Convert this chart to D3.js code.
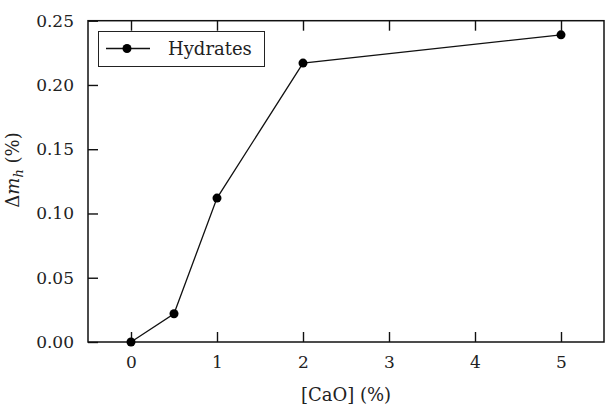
<!DOCTYPE html>
<html>
<head>
<meta charset="utf-8">
<script src="https://cdn.jsdelivr.net/npm/d3@7"></script>
<style>
  html, body { margin: 0; padding: 0; background: #fff; }
  svg { display: block; }
  svg text { font-family: "DejaVu Serif", "Liberation Serif", serif !important; fill: #222; }
</style>
</head>
<body>
<svg id="chart" width="606" height="408"></svg>
<script>
// Data
const cao = [0, 0.5, 1, 2, 5];
const hydrates = [0, 0.022, 0.112, 0.217, 0.239];
const xTicks = [0, 1, 2, 3, 4, 5];
const yTicks = [0, 0.05, 0.10, 0.15, 0.20, 0.25];
const seriesName = "Hydrates";
const xLabel = "[CaO] (%)";

const W = 606, H = 408;
const m = { left: 88, right: 2, top: 20.7, bottom: 66 };
const svg = d3.select("#chart");

const x = d3.scaleLinear().domain([-0.5, 5.5]).range([m.left, W - m.right]);
const y = d3.scaleLinear().domain([0, 0.25]).range([H - m.bottom, m.top]);

const fs = 17;
const tickLen = 10;

const gB = svg.append("g").attr("transform", `translate(0,${y(0)})`)
  .call(d3.axisBottom(x).tickValues(xTicks).tickSize(-tickLen).tickPadding(14).tickFormat(d3.format("d")));
const gT = svg.append("g").attr("transform", `translate(0,${y(0.25)})`)
  .call(d3.axisTop(x).tickValues(xTicks).tickSize(-tickLen).tickFormat(""));
const gL = svg.append("g").attr("transform", `translate(${x(-0.5)},0)`)
  .call(d3.axisLeft(y).tickValues(yTicks).tickSize(-tickLen).tickPadding(14).tickFormat(d3.format(".2f")));

[gB, gT, gL].forEach(g => {
  g.attr("font-family", null).attr("font-size", null);
  g.select(".domain").remove();
  g.selectAll(".tick line").attr("stroke", "#111").attr("stroke-width", 1.4);
  g.selectAll(".tick text").attr("font-size", fs).attr("fill", "#222");
});

svg.append("rect")
  .attr("x", x(-0.5)).attr("y", y(0.25))
  .attr("width", x(5.5) - x(-0.5)).attr("height", y(0) - y(0.25))
  .attr("fill", "none").attr("stroke", "#111").attr("stroke-width", 1.5);

const line = d3.line().x((d, i) => x(cao[i])).y(d => y(d));
svg.append("path").datum(hydrates)
  .attr("d", line).attr("fill", "none").attr("stroke", "#111").attr("stroke-width", 1.3);
svg.append("g").selectAll("circle").data(hydrates).join("circle")
  .attr("cx", (d, i) => x(cao[i])).attr("cy", d => y(d)).attr("r", 4.5).attr("fill", "#000");

const lg = svg.append("g");
lg.append("rect").attr("x", 98.5).attr("y", 31.5).attr("width", 166).attr("height", 35)
  .attr("fill", "#fff").attr("stroke", "#222").attr("stroke-width", 1);
lg.append("line").attr("x1", 106).attr("x2", 150).attr("y1", 48.5).attr("y2", 48.5)
  .attr("stroke", "#111").attr("stroke-width", 1.3);
lg.append("circle").attr("cx", 127).attr("cy", 48.5).attr("r", 4.5).attr("fill", "#000");
lg.append("text").attr("x", 168).attr("y", 55).attr("font-size", fs + 1).text(seriesName);

svg.append("text").attr("x", (x(-0.5) + x(5.5)) / 2).attr("y", 401)
  .attr("text-anchor", "middle").attr("font-size", fs + 1).text(xLabel);

const yl = svg.append("text")
  .attr("transform", `translate(19,170) rotate(-90)`)
  .attr("text-anchor", "middle").attr("font-size", fs + 1);
yl.append("tspan").text("Δ");
yl.append("tspan").attr("font-style", "italic").text("m");
yl.append("tspan").attr("font-style", "italic").attr("font-size", 13).attr("dy", 4).text("h");
yl.append("tspan").attr("dy", -4).text(" (%)");
</script>
</body>
</html>
